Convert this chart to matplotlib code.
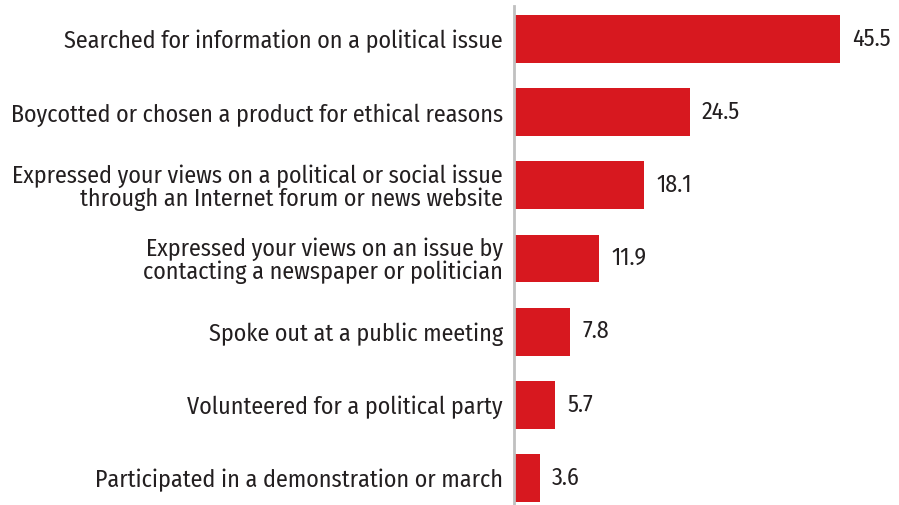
import matplotlib

matplotlib.use("Agg")
import matplotlib.pyplot as plt
from matplotlib import font_manager

activities = [
    "Searched for information on a political issue",
    "Boycotted or chosen a product for ethical reasons",
    "Expressed your views on a political or social issue\nthrough an Internet forum or news website",
    "Expressed your views on an issue by\ncontacting a newspaper or politician",
    "Spoke out at a public meeting",
    "Volunteered for a political party",
    "Participated in a demonstration or march",
]
shares = [45.5, 24.5, 18.1, 11.9, 7.8, 5.7, 3.6]

BAR_RED = "#d7181f"
TEXT = "#231f20"

# pick the first condensed family that is available
installed = {f.name for f in font_manager.fontManager.ttflist}
preferred = ["Fira Sans Condensed", "PT Sans Narrow", "Roboto Condensed",
             "Noto Sans Condensed", "Asap Condensed", "Open Sans Condensed"]
family = next((f for f in preferred if f in installed), "DejaVu Sans")
plt.rcParams["font.family"] = [family, "DejaVu Sans"]
plt.rcParams["font.weight"] = "normal"

fig = plt.figure(figsize=(8.99, 5.05), dpi=100)
ax = fig.add_axes([514 / 899, 0, 1 - 514 / 899, 499 / 505])

ypos = list(range(len(activities)))
ax.barh(ypos, shares, height=0.656, color=BAR_RED, left=0)
for y, v in zip(ypos, shares):
    ax.annotate(f"{v:.1f}", (v, y), xytext=(9, 0), textcoords="offset points",
                va="center", ha="left", fontsize=17.3, color=TEXT)

ax.set_xlim(0, (899 - 514) / ((841 - 515) / 45.5))
ax.set_ylim(6 + 27 / 73.17, -33 / 73.17)
ax.set_yticks(ypos)
ax.set_yticklabels(activities, fontsize=17.3, color=TEXT, linespacing=0.98)
ax.tick_params(axis="y", length=0, pad=8)
ax.set_xticks([])

for side in ("top", "right", "bottom"):
    ax.spines[side].set_visible(False)
ax.spines["left"].set_color("#c0c0c0")
ax.spines["left"].set_linewidth(2)

fig.savefig("out.png", dpi=100)
